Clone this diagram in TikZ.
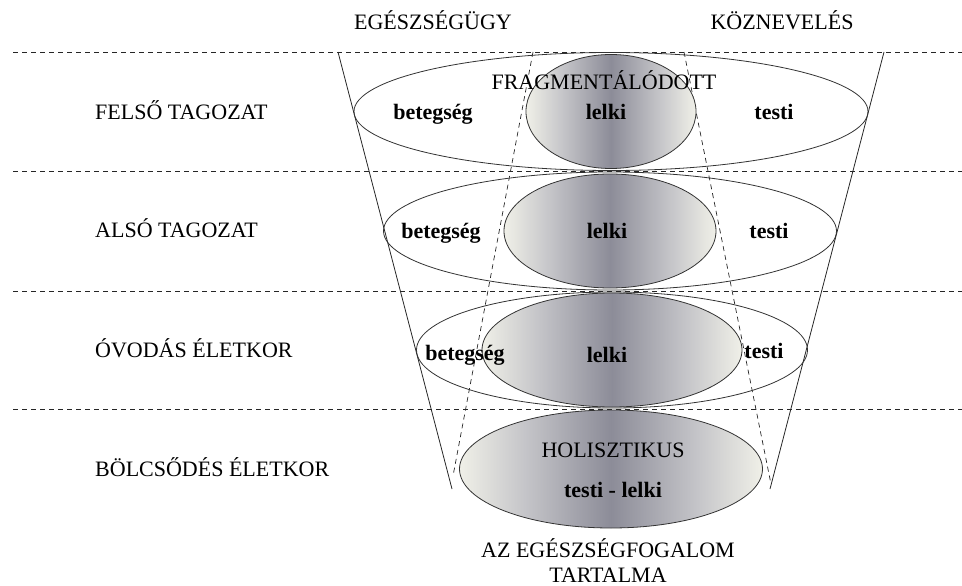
\documentclass[tikz,border=0pt]{standalone}
\usepackage{fontspec}
\setmainfont{Liberation Serif}
\usetikzlibrary{shapes.geometric}
\definecolor{szel}{RGB}{240,240,232}
\definecolor{kozep}{RGB}{196,196,200}
\definecolor{mag}{RGB}{140,140,152}
\pgfdeclarehorizontalshading{lelkiarny}{100bp}{color(0bp)=(szel); color(25bp)=(szel); color(36bp)=(kozep); color(50bp)=(mag); color(64bp)=(kozep); color(75bp)=(szel); color(100bp)=(szel)}
\tikzstyle{every node}=[inner sep=0pt,font=\fontsize{22}{26}\selectfont,text height=15pt,text depth=0pt]
\tikzstyle{szint}=[draw=black!85,line width=0.7pt,dash pattern=on 5pt off 4pt]
\tikzstyle{tolcser}=[draw=black!85,line width=0.8pt]
\tikzstyle{kulso}=[ellipse,draw=black!80,line width=0.8pt]
\tikzstyle{belso}=[ellipse,draw=black!80,line width=0.8pt,shading=lelkiarny]
\tikzstyle{kor}=[anchor=west]
\tikzstyle{szo}=[font=\fontsize{22}{26}\selectfont\bfseries]

\begin{document}
\begin{tikzpicture}[x=1pt,y=-1pt]
	  \useasboundingbox (0,0) rectangle (962,586);
	  \coordinate (h1a) at (13,52);  \coordinate (h1b) at (962,52);
	  \coordinate (h2a) at (13,171); \coordinate (h2b) at (962,171);
	  \coordinate (h3a) at (13,291); \coordinate (h3b) at (962,291);
	  \coordinate (h4a) at (13,409); \coordinate (h4b) at (962,409);
	  \draw[szint] (h1a) -- (h1b);
	  \draw[szint] (h2a) -- (h2b);
	  \draw[szint] (h3a) -- (h3b);
	  \draw[szint] (h4a) -- (h4b);
	  \coordinate (balfent) at (338,52);  \coordinate (ballent) at (452,489);
	  \coordinate (jobbfent) at (884,52); \coordinate (jobblent) at (770,489);
	  \coordinate (lelkibf) at (533,52);  \coordinate (lelkibl) at (453,476);
	  \coordinate (lelkijf) at (684,52);  \coordinate (lelkijl) at (771,484);
	  \draw[tolcser] (balfent) -- (ballent);
	  \draw[tolcser] (jobbfent) -- (jobblent);
	  \draw[szint] (lelkibf) -- (lelkibl);
	  \draw[szint] (lelkijf) -- (lelkijl);
	  \node[kulso,minimum width=514pt,minimum height=118pt] (felsoKulso) at (611,111.5) {};
	  \node[belso,minimum width=170pt,minimum height=114pt] (felsoBelso) at (611,111.5) {};
	  \node[kulso,minimum width=453pt,minimum height=118pt] (alsoKulso) at (610,231) {};
	  \node[belso,minimum width=212pt,minimum height=114pt] (alsoBelso) at (610,231) {};
	  \node[kulso,minimum width=391pt,minimum height=116pt] (ovodaKulso) at (612,350) {};
	  \node[belso,minimum width=260pt,minimum height=114pt] (ovodaBelso) at (612,350) {};
	  \node[belso,minimum width=303pt,minimum height=118pt] (bolcsiBelso) at (611,469) {};
	  \node (egeszseg) at (433,22) {EGÉSZSÉGÜGY};
	  \node (koznev) at (782,22) {KÖZNEVELÉS};
	  \node[kor] (felso) at (95,112) {FELSŐ TAGOZAT};
	  \node[kor] (also) at (95,230) {ALSÓ TAGOZAT};
	  \node[kor] (ovoda) at (95,350) {ÓVODÁS ÉLETKOR};
	  \node[kor] (bolcsi) at (95,469) {BÖLCSŐDÉS ÉLETKOR};
	  \node (fragm) at (604,82) {FRAGMENTÁLÓDOTT};
	  \node[szo] (betegFelso) at (433,112) {betegség};
	  \node[szo] (lelkiFelso) at (606,112) {lelki};
	  \node[szo] (testiFelso) at (774,112) {testi};
	  \node[szo] (betegAlso) at (441,231) {betegség};
	  \node[szo] (lelkiAlso) at (607,231) {lelki};
	  \node[szo] (testiAlso) at (769,231) {testi};
	  \node[szo] (betegOvoda) at (465,353) {betegség};
	  \node[szo] (lelkiOvoda) at (607,355) {lelki};
	  \node[szo] (testiOvoda) at (764,351) {testi};
	  \node (holisz) at (613,450) {HOLISZTIKUS};
	  \node[szo] (testilelki) at (613,490) {testi - lelki};
	  \node (cim1) at (608,550) {AZ EGÉSZSÉGFOGALOM};
	  \node (cim2) at (608,575) {TARTALMA};
	\end{tikzpicture}
\end{document}
